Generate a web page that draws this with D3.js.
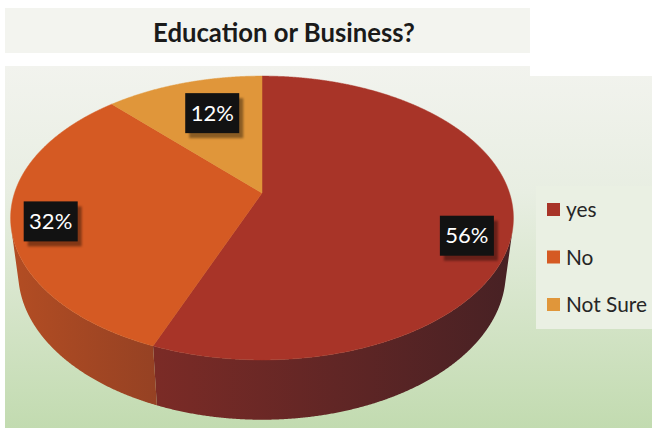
<!DOCTYPE html>
<html>
<head>
<meta charset="utf-8">
<script src="https://cdn.jsdelivr.net/npm/d3@7"></script>
<style>
  html, body { margin: 0; padding: 0; background: #ffffff; }
  svg { display: block; }
</style>
</head>
<body>
<svg id="chart" width="652" height="428"></svg>
<script>
// ---- data ----
const chartTitle = "Education or Business?";
const categories = ["yes", "No", "Not Sure"];
const percents = [56, 32, 12];
const sliceColors = ["#a83428", "#d55a23", "#e0963a"];

// ---- label placement inside each slice (radius fraction, vertical nudge) ----
const labelRadius = [0.82, 0.845, 0.60];
const labelNudge = [21, 6, -10];

const FONT = "Lato, 'Open Sans', 'Noto Sans', sans-serif";
const svg = d3.select("#chart");
const defs = svg.append("defs");

// ---- backgrounds ----
const bg = defs.append("linearGradient").attr("id", "plotBg")
  .attr("x1", 0).attr("y1", 0).attr("x2", 0).attr("y2", 1);
bg.append("stop").attr("offset", 0).attr("stop-color", "#f2f3ee");
bg.append("stop").attr("offset", 0.35).attr("stop-color", "#e8eee2");
bg.append("stop").attr("offset", 1).attr("stop-color", "#c2dbb0");

const shadowBlur = defs.append("filter").attr("id", "shadowBlur")
  .attr("x", "-20%").attr("y", "-20%").attr("width", "140%").attr("height", "140%");
shadowBlur.append("feGaussianBlur").attr("stdDeviation", 1.2);

svg.append("rect").attr("x", 5).attr("y", 8).attr("width", 525).attr("height", 45)
  .attr("fill", "#f3f4ef");
svg.append("path").attr("d", "M5,66H530V76H652V428H5Z").attr("fill", "url(#plotBg)");

// ---- title ----
const title = svg.append("text")
  .attr("x", 284).attr("y", 42)
  .attr("text-anchor", "middle")
  .attr("font-family", FONT).attr("font-weight", "bold")
  .attr("font-size", 24).attr("fill", "#1a1a1a")
  .text(chartTitle);
{
  const w = title.node().getComputedTextLength();
  title.attr("font-size", 24 * 262 / w);
}

// ---- 3D perspective projection of the pie disc ----
const tilt = 33 * Math.PI / 180;
const sT = Math.sin(tilt), cT = Math.cos(tilt);
const camDist = 4.76;         // camera distance in pie radii
const focal = 1202;           // vertical focal scale (px)
const focalX = focal * 0.98;  // horizontal focal scale (px)
const thickness = 0.265;      // disc thickness in pie radii
const cx = 262, cy = 193;     // screen position of the disc centre

// theta: clockwise angle from the far side; r: radius fraction; yw: height
function project(theta, r, yw) {
  const X = r * Math.sin(theta), Z = -r * Math.cos(theta);
  const rx = X, ry = yw - camDist * sT, rz = Z - camDist * cT;
  const d = -ry * sT - rz * cT;
  const u = ry * cT - rz * sT;
  return [cx + focalX * rx / d, cy - focal * u / d];
}

// the rim at angle theta faces the camera when its outward normal points towards it
function rimVisible(theta) {
  const X = Math.sin(theta), Z = -Math.cos(theta);
  return X * (-X) + Z * (camDist * cT - Z) > 0;
}

const color = d3.scaleOrdinal(categories, sliceColors);
const arcs = d3.pie().sort(null).value(d => d)(percents);
const line = d3.line();
const step = 0.25 * Math.PI / 180;

// screen extent of the rim, used for the side shading
const rimXs = d3.range(0, 2 * Math.PI, step).map(t => project(t, 1, 0)[0]);
const rimLeft = d3.min(rimXs), rimRight = d3.max(rimXs);

// ---- side wall ----
const sideG = svg.append("g");
arcs.forEach((a, i) => {
  const base = color(categories[i]);
  const g = defs.append("linearGradient").attr("id", "side" + i)
    .attr("gradientUnits", "userSpaceOnUse")
    .attr("x1", rimLeft).attr("y1", 0).attr("x2", rimRight).attr("y2", 0);
  g.append("stop").attr("offset", 0)
    .attr("stop-color", d3.interpolateRgb(base, "#3a1e24")(0.22));
  g.append("stop").attr("offset", 1)
    .attr("stop-color", d3.interpolateRgb(base, "#3a1e24")(0.88));

  const angles = d3.range(a.startAngle, a.endAngle, step).concat([a.endAngle])
    .filter(rimVisible);
  if (angles.length < 2) return;
  const topPts = angles.map(t => project(t, 1, 0));
  const botPts = angles.slice().reverse().map(t => project(t, 1, -thickness));
  sideG.append("path")
    .attr("d", line(topPts.concat(botPts)) + "Z")
    .attr("fill", `url(#side${i})`);
});

// ---- top faces ----
const topG = svg.append("g");
arcs.forEach((a, i) => {
  const pts = [project(0, 0, 0)];
  const angles = d3.range(a.startAngle, a.endAngle, step).concat([a.endAngle]);
  angles.forEach(t => pts.push(project(t, 1, 0)));
  topG.append("path")
    .attr("d", line(pts) + "Z")
    .attr("fill", color(categories[i]))
    .attr("stroke", color(categories[i])).attr("stroke-width", 0.5);
});

// ---- data labels ----
const boxW = 54, boxH = 40;
const labelG = svg.append("g");
arcs.forEach((a, i) => {
  const mid = (a.startAngle + a.endAngle) / 2;
  const p = project(mid, labelRadius[i], 0);
  const x = p[0], y = p[1] + labelNudge[i];
  labelG.append("rect")
    .attr("x", x - boxW / 2 + 4).attr("y", y - boxH / 2 + 5)
    .attr("width", boxW).attr("height", boxH)
    .attr("fill", "#000").attr("opacity", 0.38)
    .attr("filter", "url(#shadowBlur)");
  labelG.append("rect")
    .attr("x", x - boxW / 2).attr("y", y - boxH / 2)
    .attr("width", boxW).attr("height", boxH)
    .attr("fill", "#121212");
  labelG.append("text")
    .attr("x", x).attr("y", y + 7.5)
    .attr("text-anchor", "middle")
    .attr("font-family", FONT).attr("font-size", 22)
    .attr("fill", "#ffffff")
    .text(percents[i] + "%");
});

// ---- legend ----
const legend = svg.append("g");
legend.append("rect").attr("x", 536).attr("y", 186).attr("width", 116).attr("height", 143)
  .attr("fill", "#eaf0e3");
const legendY = d3.scalePoint(categories, [217, 312]);
const items = legend.selectAll("g.item").data(categories).enter()
  .append("g").attr("class", "item")
  .attr("transform", d => `translate(0,${legendY(d)})`);
items.append("rect")
  .attr("x", 547).attr("y", -14).attr("width", 13).attr("height", 13)
  .attr("fill", d => color(d));
const legendText = items.append("text")
  .attr("x", 566).attr("y", 0)
  .attr("font-family", FONT).attr("font-size", 20)
  .attr("fill", "#262626")
  .text(d => d);
{
  const w = legendText.filter(d => d === "Not Sure").node().getComputedTextLength();
  legendText.attr("font-size", Math.min(22, 20 * 81 / w));
}
</script>
</body>
</html>
